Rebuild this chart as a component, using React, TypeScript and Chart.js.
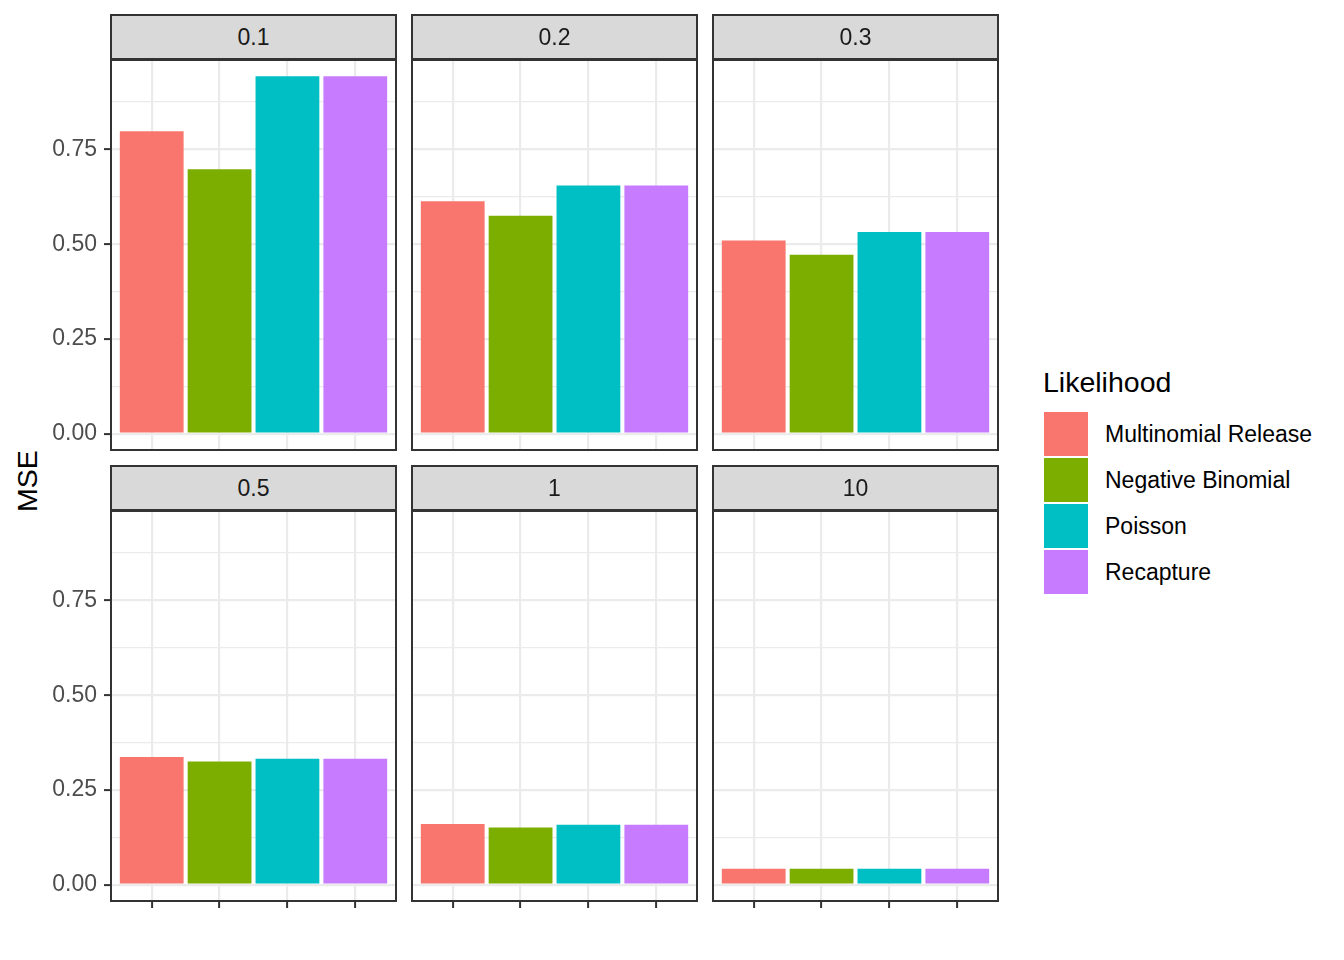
import React, { useEffect, useRef } from "react";
import { Chart, registerables } from "chart.js";

Chart.register(...registerables);

// ---------- data ----------
const facets = ["0.1", "0.2", "0.3", "0.5", "1", "10"];
const likelihoods = ["Multinomial Release", "Negative Binomial", "Poisson", "Recapture"];
const fillColors = ["#F8766D", "#7CAE00", "#00BFC4", "#C77CFF"];

const multinomialRelease = [0.798, 0.613, 0.51, 0.337, 0.16, 0.042];
const negativeBinomial = [0.698, 0.575, 0.472, 0.325, 0.151, 0.042];
const poisson = [0.943, 0.655, 0.532, 0.332, 0.158, 0.042];
const recapture = [0.943, 0.655, 0.532, 0.332, 0.158, 0.042];
const seriesValues = [multinomialRelease, negativeBinomial, poisson, recapture];

const majorYTicks = [0, 0.25, 0.5, 0.75];
const minorYTicks = [0.125, 0.375, 0.625, 0.875];
const yMin = -0.043;
const yMax = 0.986;
const xMin = 0.4;
const xMax = 4.6;

// ---------- layout ----------
const FONT = "'Liberation Sans', Arial, Helvetica, sans-serif";
const colLeft = [111, 412, 713];
const rowTop = [60, 511];
const panelW = 285;
const panelH = 390;
const stripH = 45;
const padV = 24;
const padH = 4;

const isMajor = (v: number) => majorYTicks.some((m) => Math.abs(m - v) < 1e-9);

const borderPlugin = {
  id: "panelBorder",
  afterDraw(chart: any) {
    const { ctx, chartArea } = chart;
    ctx.save();
    ctx.strokeStyle = "#333333";
    ctx.lineWidth = 2;
    ctx.strokeRect(chartArea.left, chartArea.top, chartArea.right - chartArea.left, chartArea.bottom - chartArea.top);
    ctx.restore();
  },
};

function Panel({ index }: { index: number }) {
  const ref = useRef<HTMLCanvasElement>(null);
  const col = index % 3;
  const row = Math.floor(index / 3);
  const isLeft = col === 0;
  const isBottom = row === 1;
  const axisW = isLeft ? 66 : 0;
  const xAxisH = isBottom ? 7 : 0;
  const canvasLeft = isLeft ? colLeft[col] - axisW : colLeft[col] - padH;
  const canvasW = colLeft[col] + panelW + padH - canvasLeft;
  const canvasTop = rowTop[row] - padV;
  const canvasH = panelH + 2 * padV;

  useEffect(() => {
    if (!ref.current) return;
    const chart = new Chart(ref.current, {
      type: "bar",
      data: {
        datasets: [
          {
            data: likelihoods.map((_, i) => ({ x: i + 1, y: seriesValues[i][index] })),
            backgroundColor: fillColors,
            borderWidth: 0,
            barPercentage: 0.94,
            categoryPercentage: 1,
          },
        ],
      },
      options: {
        animation: false,
        responsive: false,
        maintainAspectRatio: false,
        devicePixelRatio: window.devicePixelRatio || 1,
        layout: { padding: { left: isLeft ? 0 : padH, right: padH, top: padV, bottom: padV - xAxisH } },
        plugins: { legend: { display: false }, tooltip: { enabled: false }, title: { display: false } },
        scales: {
          x: {
            type: "linear",
            min: xMin,
            max: xMax,
            offset: false,
            afterBuildTicks: (s: any) => {
              s.ticks = likelihoods.map((_, i) => ({ value: i + 1 }));
            },
            afterFit: (s: any) => {
              s.height = xAxisH;
            },
            grid: {
              offset: false,
              color: "#EBEBEB",
              lineWidth: 2.2,
              drawTicks: isBottom,
              tickLength: 7,
              tickColor: "#333333",
              tickWidth: 2,
            },
            border: { display: false },
            ticks: { display: false },
          },
          y: {
            type: "linear",
            min: yMin,
            max: yMax,
            afterBuildTicks: (s: any) => {
              s.ticks = [...majorYTicks, ...minorYTicks].sort((a, b) => a - b).map((v) => ({ value: v }));
            },
            afterFit: (s: any) => {
              s.width = axisW;
            },
            grid: {
              color: "#EBEBEB",
              lineWidth: (c: any) => (c.tick && !isMajor(c.tick.value) ? 1.2 : 2.2),
              drawTicks: isLeft,
              tickLength: 7,
              tickColor: (c: any) => (c.tick && isMajor(c.tick.value) ? "#333333" : "rgba(0,0,0,0)"),
              tickWidth: 2,
            },
            border: { display: false },
            ticks: {
              display: isLeft,
              autoSkip: false,
              padding: 7,
              color: "#4D4D4D",
              font: { size: 23, family: FONT },
              callback: (v: any) => (isMajor(Number(v)) ? Number(v).toFixed(2) : ""),
            },
          },
        },
      },
      plugins: [borderPlugin],
    } as any);
    return () => chart.destroy();
  }, [index]);

  return (
    <>
      <canvas
        ref={ref}
        width={canvasW}
        height={canvasH}
        style={{ position: "absolute", left: canvasLeft, top: canvasTop, width: canvasW, height: canvasH, zIndex: 1 }}
      />
      <div
        style={{
          position: "absolute",
          left: colLeft[col] - 1,
          top: rowTop[row] - stripH - 1,
          width: panelW + 2,
          height: stripH + 1,
          boxSizing: "border-box",
          background: "#D9D9D9",
          border: "2px solid #333333",
          zIndex: 2,
          display: "flex",
          alignItems: "center",
          justifyContent: "center",
          fontFamily: FONT,
          fontSize: 23,
          color: "#1A1A1A",
        }}
      >
        {facets[index]}
      </div>
    </>
  );
}

export default function App() {
  return (
    <div
      style={{
        position: "absolute",
        left: 0,
        top: 0,
        width: 1344,
        height: 960,
        background: "#FFFFFF",
        overflow: "hidden",
        fontFamily: FONT,
      }}
    >
      {facets.map((_, i) => (
        <Panel key={i} index={i} />
      ))}
      {/* y-axis title */}
      <div
        style={{
          position: "absolute",
          left: 27,
          top: 481,
          transform: "translate(-50%, -50%) rotate(-90deg)",
          fontSize: 28.5,
          color: "#000000",
          whiteSpace: "nowrap",
          lineHeight: 1,
        }}
      >
        MSE
      </div>
      {/* legend */}
      <div
        style={{
          position: "absolute",
          left: 1043,
          top: 367,
          fontSize: 28.5,
          lineHeight: "30px",
          color: "#000000",
          whiteSpace: "nowrap",
        }}
      >
        Likelihood
      </div>
      {likelihoods.map((name, i) => (
        <div
          key={name}
          style={{ position: "absolute", left: 1043, top: 411 + i * 46, height: 46, display: "flex", alignItems: "center" }}
        >
          <div
            style={{
              width: 46,
              height: 46,
              boxSizing: "border-box",
              background: fillColors[i],
              border: "1px solid #FFFFFF",
            }}
          />
          <div style={{ marginLeft: 16, fontSize: 23, color: "#000000", whiteSpace: "nowrap" }}>{name}</div>
        </div>
      ))}
    </div>
  );
}
